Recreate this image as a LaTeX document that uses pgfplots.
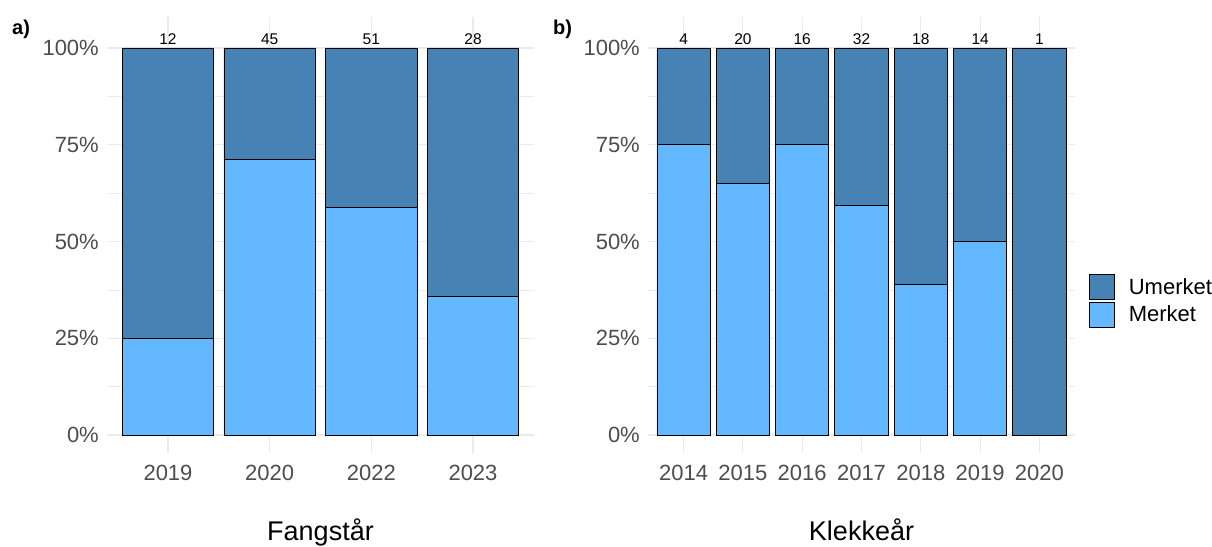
\documentclass[border=0pt]{standalone}
\usepackage{fontspec}
\setmainfont{Liberation Sans}
\usepackage{pgfplots}
\pgfplotsset{compat=1.18}
\definecolor{umerket}{HTML}{4682B4}
\definecolor{merket}{HTML}{63B8FF}
\definecolor{ticklab}{HTML}{4D4D4D}
\definecolor{gridc}{HTML}{EBEBEB}
\tikzset{
  cnt/.style={anchor=south, inner sep=0pt, yshift=3pt, font=\fontsize{15.5}{15.5}\selectfont, text=black},
}
\pgfplotsset{
  panel/.style={
    scale only axis, width=427pt, height=436pt,
    anchor=south west,
    ybar stacked, bar width=0.9,
    ymin=-4.65, ymax=108,
    xmin=0.4,
    ytick={0,25,50,75,100},
    yticklabels={0\%,25\%,50\%,75\%,100\%},
    minor ytick={12.5,37.5,62.5,87.5},
    xtick=data,
    ymajorgrids, yminorgrids, xmajorgrids,
    major grid style={gridc, line width=1.1pt},
    minor grid style={gridc, line width=0.6pt},
    axis line style={draw=none},
    major tick length=0pt, minor tick length=0pt,
    tick style={draw=none},
    /pgf/number format/assume math mode=true,
    ticklabel style={font=\fontsize{22}{22}\selectfont, text=ticklab},
    yticklabel style={anchor=east, inner sep=0pt, xshift=-8pt},
    xticklabel style={anchor=north, inner sep=0pt, yshift=-12pt},
    xlabel style={at={(axis description cs:0.5,0)}, anchor=north, yshift=-66pt, inner sep=0pt, font=\fontsize{27}{27}\selectfont, text=black},
    legend image code/.code={\draw[#1,draw=black,line width=0.8pt] (0pt,-12.5pt) rectangle (25pt,12.5pt);},
  },
  barM/.style={fill=merket, draw=black, line width=0.8pt},
  barU/.style={fill=umerket, draw=black, line width=0.8pt},
}
\begin{document}
\begin{tikzpicture}
\path[use as bounding box] (0,0) rectangle (1212pt,546pt);
% Panel a
\begin{axis}[panel, at={(107pt,93pt)}, xmax=4.6,
  xticklabels={2019,2020,2022,2023}, xlabel={Fangstår}]
\addplot[barM] coordinates {(1,25) (2,71.1) (3,58.8) (4,35.7)};
\addplot[barU] coordinates {(1,75) (2,28.9) (3,41.2) (4,64.3)};
\node[cnt] at (axis cs:1,100) {12};
\node[cnt] at (axis cs:2,100) {45};
\node[cnt] at (axis cs:3,100) {51};
\node[cnt] at (axis cs:4,100) {28};
\end{axis}
% Panel b
\begin{axis}[panel, at={(648pt,93pt)}, xmax=7.6,
  xticklabels={2014,2015,2016,2017,2018,2019,2020}, xlabel={Klekkeår},
  reverse legend,
  legend style={draw=none, fill=none, at={(1.0328,0.4106)}, anchor=north west,
    inner sep=0pt, outer sep=0pt, row sep=2pt, column sep=14pt,
    font=\fontsize{22}{22}\selectfont, nodes={inner sep=0pt}, cells={anchor=west}}]
\addplot[barM] coordinates {(1,75) (2,65) (3,75) (4,59.4) (5,38.9) (6,50) (7,0)};
\addplot[barU] coordinates {(1,25) (2,35) (3,25) (4,40.6) (5,61.1) (6,50) (7,100)};
\legend{Merket,Umerket}
\node[cnt] at (axis cs:1,100) {4};
\node[cnt] at (axis cs:2,100) {20};
\node[cnt] at (axis cs:3,100) {16};
\node[cnt] at (axis cs:4,100) {32};
\node[cnt] at (axis cs:5,100) {18};
\node[cnt] at (axis cs:6,100) {14};
\node[cnt] at (axis cs:7,100) {1};
\end{axis}
\node[anchor=base west, inner sep=0pt, font=\fontsize{20}{20}\selectfont\bfseries] at (12pt,511pt) {a)};
\node[anchor=base west, inner sep=0pt, font=\fontsize{20}{20}\selectfont\bfseries] at (553pt,511pt) {b)};
\end{tikzpicture}
\end{document}
